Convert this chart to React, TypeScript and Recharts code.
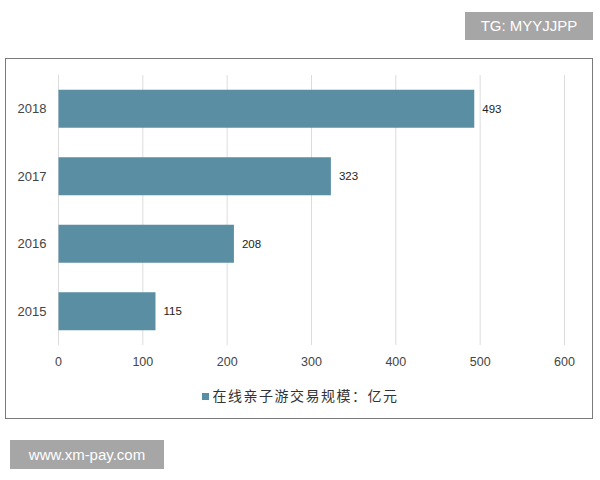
import React from "react";
import { BarChart, Bar, XAxis, YAxis, CartesianGrid, Legend, LabelList } from "recharts";

const years = ["2018", "2017", "2016", "2015"];
const values = [493, 323, 208, 115];
const xTicks = [0, 100, 200, 300, 400, 500, 600];
const seriesName = "在线亲子游交易规模：亿元";

const data = years.map((y, i) => ({ year: y, value: values[i] }));

export default function App() {
  return (
    <div style={{ position: "absolute", left: 0, top: 0, width: 600, height: 480, background: "#fff", fontFamily: "'Liberation Sans', Arial, sans-serif" }}>
      <div style={{ position: "absolute", left: 465, top: 12, width: 128, height: 28, background: "#a6a6a6", color: "#fff", fontSize: 15, lineHeight: "28px", textAlign: "center" }}>TG: MYYJJPP</div>
      <div style={{ position: "absolute", left: 5, top: 58, width: 586, height: 359, border: "1px solid #7a7a7a" }} />
      <div style={{ position: "absolute", left: 10, top: 440, width: 154, height: 29, background: "#a6a6a6", color: "#fff", fontSize: 15, lineHeight: "29px", textAlign: "center" }}>www.xm-pay.com</div>
      <div style={{ position: "absolute", left: 0, top: 0 }}>
        <BarChart
          width={600}
          height={480}
          data={data}
          layout="vertical"
          margin={{ top: 75, right: 35.5, bottom: 105, left: 8 }}
          barCategoryGap="22%"
        >
          <CartesianGrid horizontal={false} vertical={true} stroke="#dcdcdc" />
          <XAxis
            type="number"
            domain={[0, 600]}
            ticks={xTicks}
            interval={0}
            axisLine={false}
            tickLine={false}
            height={30}
            tickMargin={6}
            tick={{ fill: "#444", fontSize: 12.5, fontFamily: "'Liberation Sans', Arial, sans-serif" }}
          />
          <YAxis
            type="category"
            dataKey="year"
            width={50.5}
            axisLine={false}
            tickLine={false}
            tickMargin={6}
            tick={{ fill: "#444", fontSize: 13, fontFamily: "'Liberation Sans', Arial, sans-serif" }}
          />
          <Legend
            layout="horizontal"
            verticalAlign="middle"
            align="center"
            iconType="square"
            iconSize={7}
            wrapperStyle={{ top: 385, left: 0, width: 610 }}
            formatter={(v: string) => (
              <span style={{ color: "#333", fontSize: 14, letterSpacing: 1.5, fontFamily: "'Noto Sans CJK SC', sans-serif" }}>{v}</span>
            )}
          />
          <Bar dataKey="value" name={seriesName} fill="#5a8ea3" isAnimationActive={false}>
            <LabelList dataKey="value" position="right" offset={8} fill="#222" fontSize={11.5} fontFamily="'Liberation Sans', Arial, sans-serif" />
          </Bar>
        </BarChart>
      </div>
    </div>
  );
}
